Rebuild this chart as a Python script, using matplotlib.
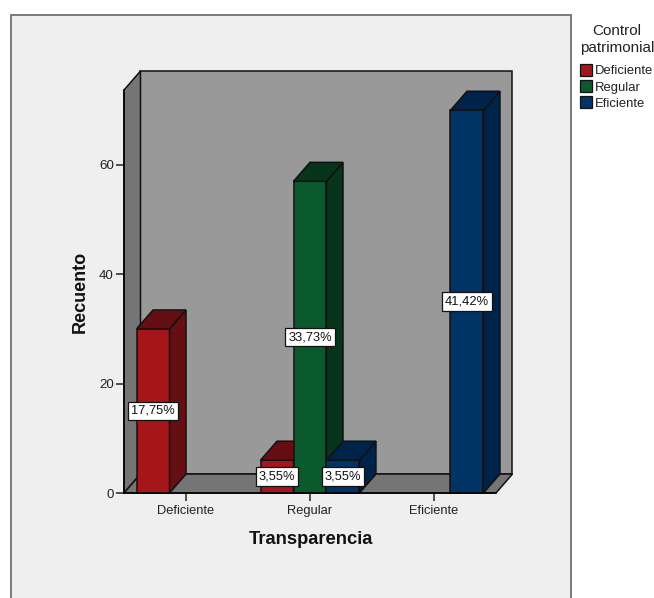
import matplotlib
matplotlib.use('Agg')
import matplotlib.pyplot as plt
from matplotlib.patches import Polygon, Rectangle

plt.rcParams['font.family'] = ['Liberation Sans', 'DejaVu Sans']

categories = ['Deficiente', 'Regular', 'Eficiente']
series_names = ['Deficiente', 'Regular', 'Eficiente']
deficiente_counts = [30, 6, 0]
regular_counts = [0, 57, 0]
eficiente_counts = [0, 6, 70]
deficiente_pct = ['17,75%', '3,55%', '']
regular_pct = ['', '33,73%', '']
eficiente_pct = ['', '3,55%', '41,42%']
y_ticks = [0, 20, 40, 60]

counts = [deficiente_counts, regular_counts, eficiente_counts]
labels = [deficiente_pct, regular_pct, eficiente_pct]
front_colors = ['#a5161a', '#0b5a2e', '#003366']
side_colors = ['#650f12', '#07351c', '#00234a']
top_colors = ['#650f12', '#07351c', '#00234a']

W, H = 654, 598
EDGE = '#111111'
BAR_W = 0.266
DX = 0.133   # 3D depth along x, data units
DY = 3.47    # 3D depth along y, data units
YMAX = 73.7


def face(ax, pts, color, z):
    ax.add_patch(Polygon(pts, closed=True, facecolor=color, edgecolor=EDGE,
                         linewidth=1.1, zorder=z, clip_on=False))


def draw_bar(ax, x, val, i, z):
    left = x - BAR_W / 2
    right = x + BAR_W / 2
    bars = ax.bar(x, val, width=BAR_W, color=front_colors[i], edgecolor=EDGE,
                  linewidth=1.1, zorder=z, clip_on=False)
    face(ax, [(right, 0), (right + DX, DY), (right + DX, val + DY), (right, val)], side_colors[i], z)
    face(ax, [(left, val), (left + DX, val + DY), (right + DX, val + DY), (right, val)], top_colors[i], z)
    return bars


fig = plt.figure(figsize=(W / 100, H / 100), dpi=100, facecolor='white')

# chart panel, its lower edge runs past the bottom of the figure
fig.add_artist(Rectangle((10.5 / W, -0.05), 560 / W, 1.05 - 14.5 / H, transform=fig.transFigure,
                         facecolor='#efefef', edgecolor='#7a7a7a', linewidth=1.4, zorder=-1))

ax = fig.add_axes([124 / W, (H - 493) / H, 372 / W, 403 / H])
ax.set_facecolor('none')
ax.set_xlim(-0.5, 2.5)
ax.set_ylim(0, YMAX)

# box walls and floor
x0, x1 = -0.5, 2.5
face(ax, [(x0 + DX, DY), (x1 + DX, DY), (x1 + DX, YMAX + DY), (x0 + DX, YMAX + DY)], '#999999', 1)
face(ax, [(x0, 0), (x0 + DX, DY), (x0 + DX, YMAX + DY), (x0, YMAX)], '#757575', 2)
face(ax, [(x0, 0), (x1, 0), (x1 + DX, DY), (x0 + DX, DY)], '#757575', 2)

# bars go left to right so nearer sides overlap correctly
z = 3
for c in range(len(categories)):
    for i in range(len(series_names)):
        val = counts[i][c]
        if val > 0:
            draw_bar(ax, c + (i - 1) * BAR_W, val, i, z)
            z += 1

for c in range(len(categories)):
    for i in range(len(series_names)):
        if labels[i][c]:
            ax.text(c + (i - 1) * BAR_W, counts[i][c] / 2, labels[i][c], ha='center', va='center',
                    fontsize=9.3, color='#111111', zorder=50,
                    bbox=dict(boxstyle='square,pad=0.25', facecolor='white', edgecolor='#111111', linewidth=0.9))

for s in ['top', 'right']:
    ax.spines[s].set_visible(False)
ax.spines['left'].set_zorder(40)
ax.spines['bottom'].set_zorder(40)
ax.spines['left'].set_linewidth(1.1)
ax.spines['bottom'].set_linewidth(1.1)

ax.set_xticks(range(len(categories)))
ax.set_xticklabels(categories)
ax.set_yticks(y_ticks)
ax.tick_params(axis='x', length=5.8, width=1.1, labelsize=9.3, pad=2.5, colors='#222222')
ax.tick_params(axis='y', length=5.8, width=1.1, labelsize=9.6, pad=1.5, colors='#222222')

fig.text(310.5 / W, 1 - 539.5 / H, 'Transparencia', ha='center', va='center', fontsize=13.2,
         fontweight='bold', color='#111111')
fig.text(80.5 / W, 1 - 292 / H, 'Recuento', ha='center', va='center', rotation=90, fontsize=13,
         fontweight='bold', color='#111111')

# legend drawn by hand, block layout outside the panel
fig.text(617 / W, 1 - 39.5 / H, 'Control\npatrimonial', ha='center', va='center', fontsize=11,
         color='#222222', linespacing=1.2)
for i, name in enumerate(series_names):
    top = 64 + i * 16
    fig.add_artist(Rectangle((580 / W, 1 - (top + 12) / H), 12 / W, 12 / H, transform=fig.transFigure,
                             facecolor=front_colors[i], edgecolor='#111111', linewidth=0.9))
    fig.text(595 / W, 1 - (top + 7.5) / H, name, ha='left', va='center', fontsize=9.4, color='#222222')

fig.savefig('out.png', dpi=100)
